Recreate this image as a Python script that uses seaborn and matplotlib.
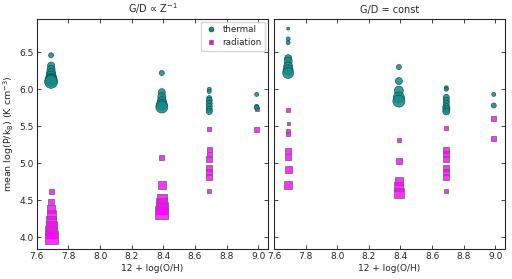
import numpy as np
import pandas as pd
import matplotlib
matplotlib.use("Agg")
import matplotlib.pyplot as plt
import seaborn as sns
from matplotlib.lines import Line2D

# ---- data: metallicity groups, mean log pressure, relative cloud size ----
panels = ["G/D ∝ Z$^{-1}$", "G/D = const"]
xticks = [7.6, 7.8, 8.0, 8.2, 8.4, 8.6, 8.8, 9.0]
yticks = [4.0, 4.5, 5.0, 5.5, 6.0, 6.5]

# Left panel (G/D ∝ Z^-1)
L_th_x = [7.69]*8 + [8.39]*6 + [8.69]*8 + [8.99]*3
L_th_y = [6.46, 6.32, 6.27, 6.22, 6.18, 6.14, 6.12, 6.10,
          6.22, 5.96, 5.90, 5.84, 5.79, 5.76,
          6.00, 5.97, 5.88, 5.85, 5.81, 5.77, 5.73, 5.70,
          5.93, 5.77, 5.75]
L_th_r = [5, 7, 8, 9, 10, 11, 12, 13,
          5, 7, 8, 9, 11, 12,
          4, 4, 5, 6, 6, 6, 6, 6,
          4, 4, 5]
L_ra_x = [7.69]*8 + [8.39]*6 + [8.69]*8 + [8.99]*2
L_ra_y = [4.62, 4.47, 4.38, 4.30, 4.22, 4.15, 4.07, 4.00,
          5.08, 4.70, 4.52, 4.45, 4.39, 4.33,
          5.46, 5.18, 5.12, 5.06, 4.93, 4.88, 4.82, 4.62,
          5.73, 5.45]
L_ra_r = [5, 6, 8, 9, 10, 11, 12, 13,
          5, 8, 10, 11, 12, 13,
          4, 5, 5, 6, 6, 6, 6, 4,
          4, 5]

# Right panel (G/D = const)
R_th_x = [7.69]*8 + [8.39]*5 + [8.69]*8 + [8.99]*2
R_th_y = [6.82, 6.68, 6.63, 6.42, 6.38, 6.31, 6.26, 6.22,
          6.30, 6.11, 5.98, 5.89, 5.84,
          6.02, 6.00, 5.89, 5.85, 5.81, 5.76, 5.73, 5.70,
          5.93, 5.78]
R_th_r = [3, 4, 4, 7, 8, 9, 10, 11,
          5, 7, 9, 11, 12,
          4, 4, 6, 6, 6, 7, 7, 7,
          4, 5]
R_ra_x = [7.69]*8 + [8.39]*5 + [8.69]*8 + [8.99]*2
R_ra_y = [5.72, 5.54, 5.43, 5.40, 5.17, 5.08, 4.91, 4.71,
          5.32, 5.03, 4.76, 4.68, 4.60,
          5.47, 5.18, 5.12, 5.06, 4.93, 4.88, 4.82, 4.62,
          5.61, 5.34]
R_ra_r = [4, 3, 4, 4, 6, 6, 7, 8,
          4, 6, 8, 9, 10,
          4, 6, 6, 6, 6, 6, 6, 4,
          5, 5]

def frame(x, y, r):
    df = pd.DataFrame({"x": x, "y": y, "r": r})
    df["area"] = (0.72 * df["r"]) ** 2
    return df

sets = [
    (frame(L_th_x, L_th_y, L_th_r), frame(L_ra_x, L_ra_y, L_ra_r)),
    (frame(R_th_x, R_th_y, R_th_r), frame(R_ra_x, R_ra_y, R_ra_r)),
]

TEAL = "#148a8a"
TEAL_E = "#0a4545"
MAG = "#ff00ff"
MAG_E = "#6a6a6a"

sns.set_style("ticks")
plt.rcParams["font.family"] = ["DejaVu Sans"]

fig = plt.figure(figsize=(5.12, 2.79), dpi=100)
ax1 = fig.add_axes([0.072, 0.1075, 0.451, 0.8245])
ax2 = fig.add_axes([0.535, 0.1075, 0.451, 0.8245], sharey=ax1)

all_area = pd.concat([d["area"] for pair in sets for d in pair])
amin, amax = all_area.min(), all_area.max()

for ax, title, (th, ra) in zip([ax1, ax2], panels, sets):
    sns.scatterplot(data=th, x="x", y="y", size="area", sizes=(amin, amax),
                    size_norm=(amin, amax), color=TEAL, marker="o",
                    edgecolor=TEAL_E, linewidth=0.5, alpha=0.85,
                    legend=False, ax=ax, zorder=3)
    sns.scatterplot(data=ra, x="x", y="y", size="area", sizes=(amin, amax),
                    size_norm=(amin, amax), color=MAG, marker="s",
                    edgecolor=MAG_E, linewidth=0.7, alpha=0.8,
                    legend=False, ax=ax, zorder=2)
    ax.set_title(title, fontsize=7, pad=4)
    ax.set_xlim(7.6, 9.06)
    ax.set_xticks(xticks)
    ax.set_xlabel("12 + log(O/H)", fontsize=6.5, labelpad=2)
    ax.tick_params(direction="in", top=True, right=True, labelsize=6.5,
                   length=3, width=0.6, pad=2)
    for s in ax.spines.values():
        s.set_linewidth(0.8)

ax1.set_ylim(3.84, 6.95)
ax1.set_yticks(yticks)
ax1.set_ylabel("mean log(P/k$_{\\rm B}$) (K cm$^{-3}$)", fontsize=6.8, labelpad=3)
ax2.set_ylabel("")
ax2.tick_params(labelleft=False)

handles = [
    Line2D([], [], marker="o", linestyle="", markersize=3.5, markerfacecolor=TEAL,
           markeredgecolor=TEAL_E, markeredgewidth=0.5, label="thermal"),
    Line2D([], [], marker="s", linestyle="", markersize=3.5, markerfacecolor=MAG,
           markeredgecolor=MAG_E, markeredgewidth=0.5, label="radiation"),
]
ax1.legend(handles=handles, loc="upper right", fontsize=6.3, frameon=True,
           borderpad=0.4, handletextpad=0.6, labelspacing=0.5,
           borderaxespad=0.3, handlelength=1.5)

fig.savefig("out.png", dpi=100)
